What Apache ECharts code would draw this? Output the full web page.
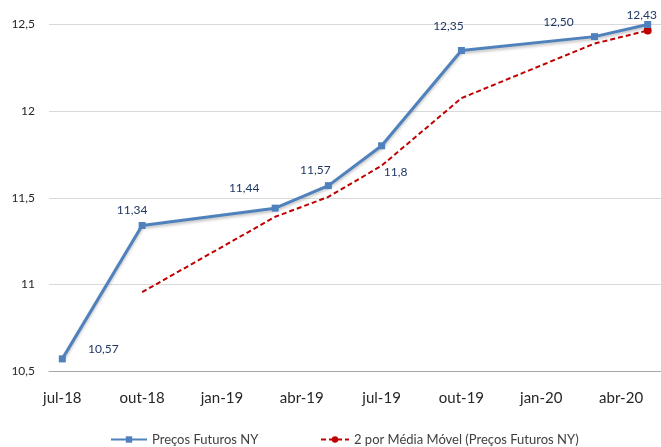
<!DOCTYPE html>
<html>
<head>
<meta charset="utf-8">
<script src="https://cdn.jsdelivr.net/npm/echarts@6/dist/echarts.min.js"></script>
<style>
html,body{margin:0;padding:0;background:#fff;}
#c{width:661px;height:447px;}
</style>
</head>
<body>
<div id="c"></div>
<script>
const months = ['jul-18','ago-18','set-18','out-18','nov-18','dez-18','jan-19','fev-19','mar-19','abr-19','mai-19','jun-19','jul-19','ago-19','set-19','out-19','nov-19','dez-19','jan-20','fev-20','mar-20','abr-20','mai-20'];
const priceMonths = ['jul-18','out-18','mar-19','mai-19','jul-19','out-19','mar-20','mai-20'];
const prices = [10.57, 11.34, 11.44, 11.57, 11.80, 12.35, 12.43, 12.50];
const priceLabels = ['10,57','11,34','11,44','11,57','11,8','12,35','12,50','12,43'];
const maMonths = ['out-18','mar-19','mai-19','jul-19','out-19','mar-20','mai-20'];
const movingAvg = [10.955, 11.39, 11.505, 11.685, 12.075, 12.39, 12.465];
const yTicks = {min: 10.5, max: 12.5, interval: 0.5};

// label placement (style only)
const labelOffsets = [[41,-10],[-10,-15],[-31,-20],[-13,-15],[14,26],[-13,-24],[-36,-15],[-6,-9]];

const FONT = 'Lato';
const chart = echarts.init(document.getElementById('c'));

const priceData = priceMonths.map((m, i) => ({
  value: [m, prices[i]],
  label: {show: true, formatter: priceLabels[i], position: 'inside', offset: labelOffsets[i]}
}));
const maData = maMonths.map((m, i) => {
  const item = {value: [m, movingAvg[i]]};
  if (i === maMonths.length - 1) { item.symbol = 'circle'; item.symbolSize = 8; }
  return item;
});

chart.setOption({
  animation: false,
  backgroundColor: '#fff',
  textStyle: {fontFamily: FONT},
  grid: {left: 49, right: -5, top: 24.5, bottom: 76, containLabel: false},
  legend: [
    {
      left: 105, top: 428, itemWidth: 36, itemHeight: 8,
      textStyle: {fontFamily: FONT, fontSize: 13, color: '#404040'},
      data: ['Preços Futuros NY']
    },
    {
      left: 315, top: 428, itemWidth: 28, itemHeight: 8,
      textStyle: {fontFamily: FONT, fontSize: 13, color: '#404040'},
      data: ['2 por Média Móvel (Preços Futuros NY)']
    }
  ],
  xAxis: {
    type: 'category',
    data: months,
    boundaryGap: true,
    axisLine: {show: true, lineStyle: {color: '#a6a6a6', width: 1}},
    axisTick: {show: false},
    axisLabel: {interval: 2, fontFamily: FONT, fontSize: 15, color: '#262626', margin: 20},
    splitLine: {show: false}
  },
  yAxis: {
    type: 'value',
    min: yTicks.min, max: yTicks.max, interval: yTicks.interval,
    axisLine: {show: false},
    axisTick: {show: false},
    axisLabel: {
      fontFamily: FONT, fontSize: 12, color: '#262626', margin: 14,
      formatter: v => String(v).replace('.', ',')
    },
    splitLine: {lineStyle: {color: '#d9d9d9', width: 1}}
  },
  series: [
    {
      name: '2 por Média Móvel (Preços Futuros NY)',
      type: 'line',
      data: maData,
      symbol: 'none',
      showSymbol: true,
      color: '#c00000',
      lineStyle: {color: '#c00000', width: 2, type: [5, 3]},
      itemStyle: {color: '#c00000'},
      z: 2
    },
    {
      name: 'Preços Futuros NY',
      type: 'line',
      data: priceData,
      symbol: 'rect',
      symbolSize: 7,
      color: '#4f81bd',
      lineStyle: {color: '#4f81bd', width: 3, shadowColor: 'rgba(0,0,0,0.25)', shadowBlur: 3, shadowOffsetY: 2},
      itemStyle: {color: '#4f81bd'},
      label: {fontFamily: FONT, fontSize: 12, color: '#1f3864'},
      z: 3
    }
  ]
});
</script>
</body>
</html>
